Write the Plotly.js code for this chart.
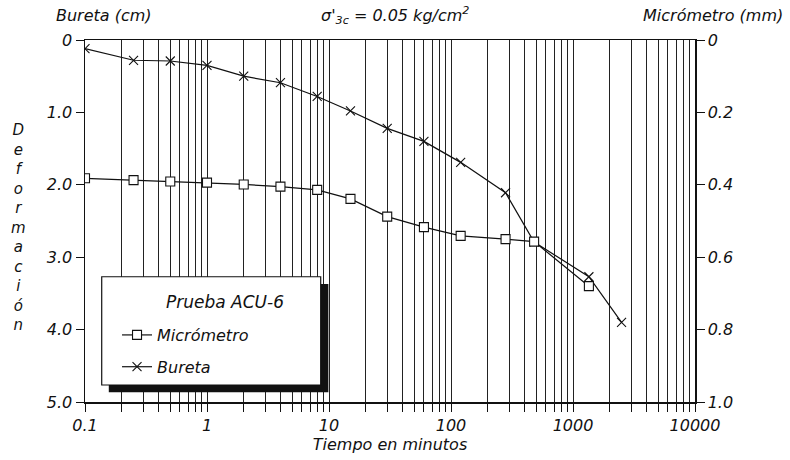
<!DOCTYPE html>
<html>
<head>
<meta charset="utf-8">
<script src="https://cdn.plot.ly/plotly-3.0.1.min.js"></script>
<style>html,body{margin:0;padding:0;background:#fff;}#chart{width:790px;height:460px;}</style>
</head>
<body>
<div id="chart"></div>
<script>
// ---- data ----
var timeBureta = [0.1, 0.25, 0.5, 1, 2, 4, 8, 15, 30, 60, 120, 280, 480, 1350, 2500];
var buretaCm   = [0.12, 0.28, 0.29, 0.35, 0.50, 0.59, 0.78, 0.98, 1.22, 1.40, 1.69, 2.11, 2.79, 3.27, 3.90];
var timeMicro  = [0.1, 0.25, 0.5, 1, 2, 4, 8, 15, 30, 60, 120, 280, 480, 1350];
var microMm    = [0.382, 0.387, 0.391, 0.394, 0.399, 0.405, 0.414, 0.439, 0.488, 0.517, 0.541, 0.550, 0.557, 0.680];

var xDecades    = [0.1, 1, 10, 100, 1000, 10000];
var xDecadeText = ["0.1", "1", "10", "100", "1000", "10000"];
var leftTicks   = [0, 1, 2, 3, 4, 5];
var leftText    = ["0", "1.0", "2.0", "3.0", "4.0", "5.0"];
var rightTicks  = [0, 0.2, 0.4, 0.6, 0.8, 1.0];
var rightText   = ["0", "0.2", "0.4", "0.6", "0.8", "1.0"];

var seriesNames = ["Micrómetro", "Bureta"];
var legendTitle = "Prueba ACU-6";
var chartTitle  = "σ'<sub>3c</sub> = 0.05 kg/cm<sup>2</sup>";
var leftTitle   = "Bureta (cm)";
var rightTitle  = "Micrómetro (mm)";
var xTitle      = "Tiempo en minutos";
var yWord       = "Deformación";

// minor log grid positions (2..9 in each decade)
var xMinorVals = [];
for (var d = 0; d < xDecades.length - 1; d++) {
  for (var m = 2; m <= 9; m++) { xMinorVals.push(xDecades[d] * m); }
}

var FONT = "DejaVu Sans, Verdana, sans-serif";
var ital = function (size) { return {family: FONT, size: size, color: "#111", style: "italic"}; };

var traces = [
  {
    x: timeMicro, y: microMm, yaxis: "y2", name: seriesNames[0], legendgroup: "a",
    mode: "lines+markers", type: "scatter",
    line: {color: "#111", width: 1.2},
    marker: {symbol: "square", size: 9, color: "#fff", line: {color: "#111", width: 1.1}}
  },
  {
    x: timeBureta, y: buretaCm, name: seriesNames[1], legendgroup: "b",
    mode: "lines+markers", type: "scatter",
    line: {color: "#111", width: 1.2},
    marker: {symbol: "x-thin", size: 9, color: "#111", line: {color: "#111", width: 1.1}}
  }
];

var layout = {
  width: 790, height: 460,
  margin: {l: 85, r: 95, t: 40, b: 58},
  paper_bgcolor: "#fff", plot_bgcolor: "#fff",
  showlegend: true,
  font: ital(16),
  xaxis: {
    type: "log", range: [-1, 4],
    tickmode: "array", tickvals: xDecades, ticktext: xDecadeText,
    ticks: "outside", ticklen: 8, tickcolor: "#111", tickwidth: 1,
    showgrid: true, gridcolor: "#222", gridwidth: 1,
    minor: {tickmode: "array", tickvals: xMinorVals, ticks: "outside", ticklen: 8,
            tickcolor: "#111", showgrid: true, gridcolor: "#222", gridwidth: 1},
    showline: true, linecolor: "#111", linewidth: 1.5, mirror: true,
    zeroline: false, tickfont: ital(16),
    title: {text: xTitle, font: ital(16), standoff: 2}
  },
  yaxis: {
    range: [5, 0], tickmode: "array", tickvals: leftTicks, ticktext: leftText,
    ticks: "outside", ticklen: 8, tickcolor: "#111",
    showgrid: false, zeroline: false,
    showline: true, linecolor: "#111", linewidth: 1.5,
    tickfont: ital(16)
  },
  yaxis2: {
    overlaying: "y", side: "right",
    range: [1.0, 0], tickmode: "array", tickvals: rightTicks, ticktext: rightText,
    ticks: "outside", ticklen: 8, tickcolor: "#111",
    showgrid: false, zeroline: false,
    showline: true, linecolor: "#111", linewidth: 1.5,
    tickfont: ital(16)
  },
  legend: {
    x: 0.0525, y: 0.232, xanchor: "left", yanchor: "top",
    bgcolor: "rgba(0,0,0,0)", borderwidth: 0,
    font: ital(16), tracegroupgap: 8, traceorder: "grouped", itemwidth: 30
  },
  shapes: [
    {type: "rect", xref: "paper", yref: "paper", x0: 0.039, x1: 0.399, y0: 0.027, y1: 0.326,
     fillcolor: "#111", line: {width: 0}, layer: "above"},
    {type: "rect", xref: "paper", yref: "paper", x0: 0.0274, x1: 0.3864, y0: 0.047, y1: 0.346,
     fillcolor: "#fff", line: {color: "#111", width: 1.2}, layer: "above"}
  ],
  annotations: [
    {text: chartTitle, xref: "paper", yref: "paper", x: 0.508, xanchor: "center", y: 1, yanchor: "middle", yshift: 25, showarrow: false, font: ital(16)},
    {text: leftTitle, xref: "paper", yref: "paper", x: -0.0508, xanchor: "left", y: 1, yanchor: "middle", yshift: 25, showarrow: false, font: ital(16)},
    {text: rightTitle, xref: "paper", yref: "paper", x: 1.1475, xanchor: "right", y: 1, yanchor: "middle", yshift: 25, showarrow: false, font: ital(16)},
    {text: yWord.split("").join("<br>"), xref: "paper", yref: "paper", x: -0.1098, xanchor: "center", y: 0.483, yanchor: "middle", showarrow: false, font: ital(15)},
    {text: legendTitle, xref: "paper", yref: "paper", x: 0.129, xanchor: "left", y: 0.276, yanchor: "middle", showarrow: false, font: ital(17)}
  ]
};

Plotly.newPlot("chart", traces, layout, {displayModeBar: false, staticPlot: true});
</script>
</body>
</html>
